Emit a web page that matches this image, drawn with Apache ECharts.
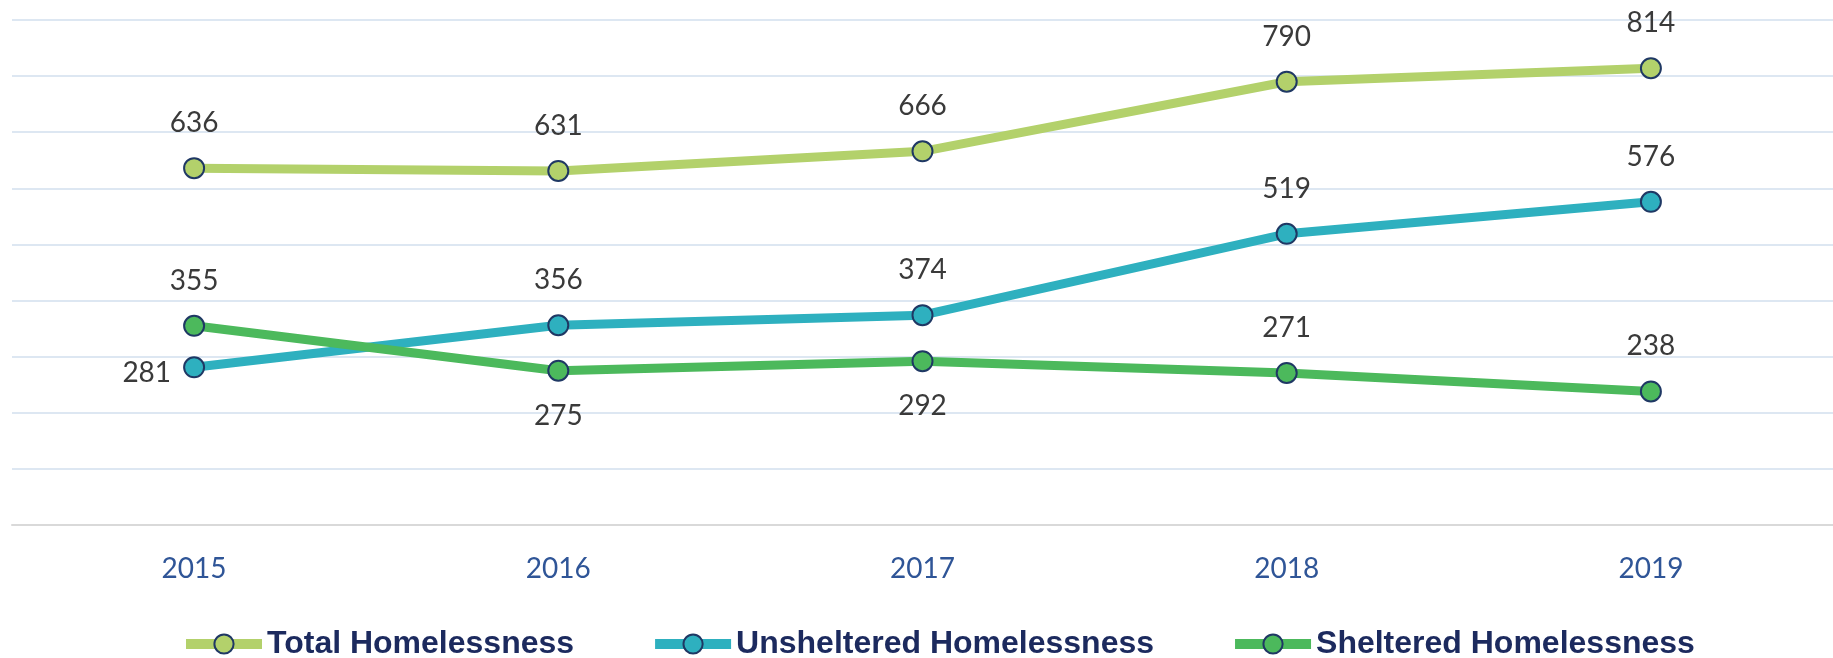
<!DOCTYPE html>
<html><head><meta charset="utf-8">
<script src="https://cdn.jsdelivr.net/npm/echarts@6/dist/echarts.min.js"></script>
<style>html,body{margin:0;padding:0;background:#fff}#c{width:1833px;height:658px}</style>
</head><body><div id="c"></div>
<script>
const years = ['2015','2016','2017','2018','2019'];
const totalVals = [636, 631, 666, 790, 814];
const unshelteredVals = [281, 356, 374, 519, 576];
const shelteredVals = [355, 275, 292, 271, 238];
const seriesNames = ['Total Homelessness','Unsheltered Homelessness','Sheltered Homelessness'];

const labelFont = {fontFamily:'Lato', fontSize:28, color:'#3a3a3a'};
function withPos(vals, positions){
  return vals.map((v,i)=>{
    const p = positions[i];
    const lab = Object.assign({show:true, position:p, distance: p==='left'?12:20}, labelFont);
    if(p==='left') lab.offset=[0,6];
    return {value:v, label:lab};
  });
}
const chart = echarts.init(document.getElementById('c'), null, {renderer:'canvas'});
const mk = (name, vals, color, positions) => ({
  name, type:'line', data: withPos(vals, positions),
  symbol:'circle', symbolSize:20,
  lineStyle:{color, width:9},
  itemStyle:{color, borderColor:'#1f3864', borderWidth:2},
  emphasis:{disabled:true},
  animation:false
});
chart.setOption({
  animation:false,
  grid:{left:12, width:1846, top:20, bottom:133},
  xAxis:{type:'category', data:years, boundaryGap:true,
    axisLine:{lineStyle:{color:'#d9d9d9', width:2}}, axisTick:{show:false},
    axisLabel:{color:'#2f5597', fontFamily:'Lato', fontSize:28, margin:30}},
  yAxis:{type:'value', min:0, max:900, interval:100, axisLabel:{show:false},
    axisLine:{show:false}, axisTick:{show:false},
    splitLine:{lineStyle:{color:'#dde7f2', width:2}}},
  legend:{left:176, top:623, itemWidth:76, itemHeight:24, itemGap:76,
    lineStyle:{width:10},
    textStyle:{fontFamily:'Liberation Sans', fontWeight:'bold', fontSize:32, color:'#1c2a5e'},
    data:seriesNames},
  series:[
    mk(seriesNames[0], totalVals, '#b3d16b', ['top','top','top','top','top']),
    mk(seriesNames[1], unshelteredVals, '#2eb0bf', ['left','top','top','top','top']),
    mk(seriesNames[2], shelteredVals, '#4cb95c', ['top','bottom','bottom','top','top'])
  ]
});
</script></body></html>
